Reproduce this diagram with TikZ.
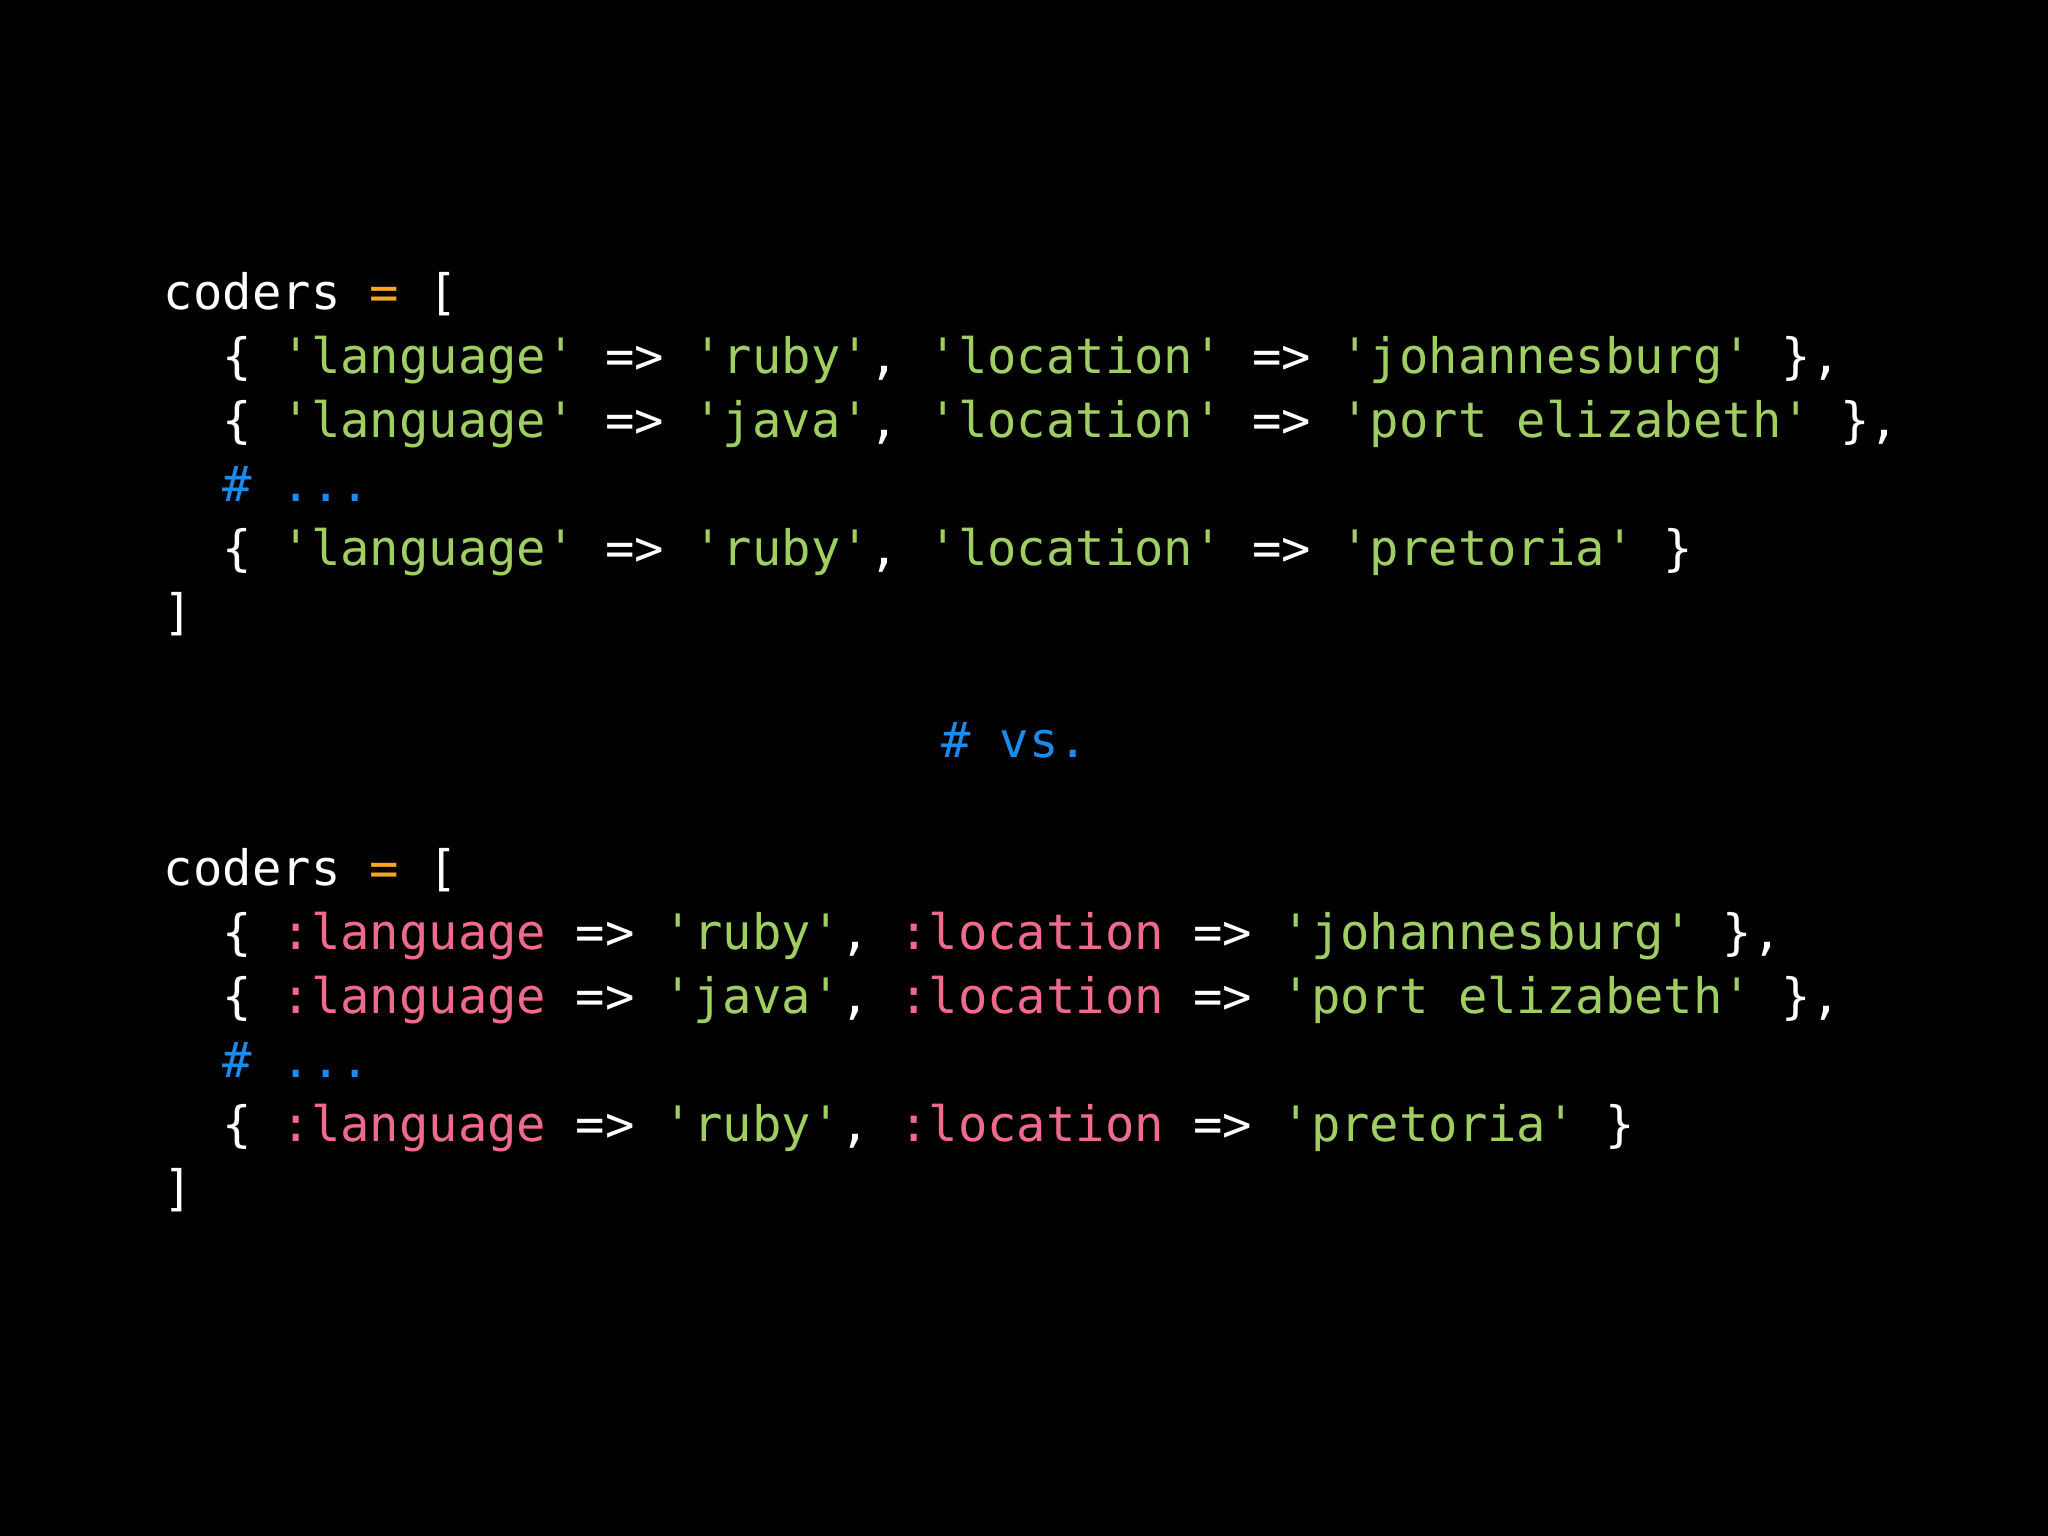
\documentclass[tikz,border=0pt]{standalone}
\usepackage{fontspec}
\newfontfamily\codefont{DejaVu Sans Mono}
\definecolor{cgreen}{HTML}{A0CE62}
\definecolor{cpink}{HTML}{EE6B8E}
\definecolor{cblue}{HTML}{1E8BEB}
\definecolor{corange}{HTML}{F5A623}
\newcommand{\cG}[1]{\textcolor{cgreen}{#1}}
\newcommand{\cP}[1]{\textcolor{cpink}{#1}}
\newcommand{\cB}[1]{\textcolor{cblue}{#1}}
\newcommand{\cO}[1]{\textcolor{corange}{#1}}
\begin{document}
\begin{tikzpicture}[x=0.01306cm,y=-0.01306cm,
  code/.style={anchor=base west,inner sep=0pt,text=white,font=\codefont\fontsize{13.9pt}{18pt}\selectfont}]
\fill[black] (0,0) rectangle (1568,1176);
\useasboundingbox (0,0) rectangle (1568,1176);
\node[code] (a1) at (125,237) {coders \cO{=} [};
\node[code] (a2) at (125,286) {\ \ \{ \cG{'language'} => \cG{'ruby'}, \cG{'location'} => \cG{'johannesburg'} \},};
\node[code] (a3) at (125,335) {\ \ \{ \cG{'language'} => \cG{'java'}, \cG{'location'} => \cG{'port elizabeth'} \},};
\node[code] (a4) at (125,384) {\ \ \cB{\# ...}};
\node[code] (a5) at (125,433) {\ \ \{ \cG{'language'} => \cG{'ruby'}, \cG{'location'} => \cG{'pretoria'} \}};
\node[code] (a6) at (125,482) {]};
\node[code] (vs) at (720,580) {\cB{\# vs.}};
\node[code] (b1) at (125,678) {coders \cO{=} [};
\node[code] (b2) at (125,727) {\ \ \{ \cP{:language} => \cG{'ruby'}, \cP{:location} => \cG{'johannesburg'} \},};
\node[code] (b3) at (125,776) {\ \ \{ \cP{:language} => \cG{'java'}, \cP{:location} => \cG{'port elizabeth'} \},};
\node[code] (b4) at (125,825) {\ \ \cB{\# ...}};
\node[code] (b5) at (125,874) {\ \ \{ \cP{:language} => \cG{'ruby'}, \cP{:location} => \cG{'pretoria'} \}};
\node[code] (b6) at (125,923) {]};
\end{tikzpicture}
\end{document}
